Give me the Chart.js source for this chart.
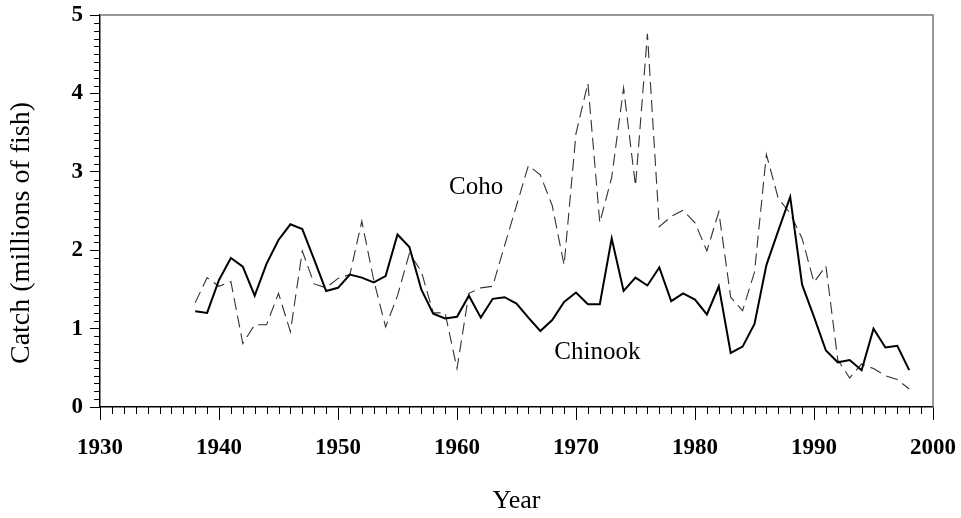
<!DOCTYPE html>
<html>
<head>
<meta charset="utf-8">
<script src="https://cdn.jsdelivr.net/npm/chart.js@4"></script>
<style>
  html, body { margin: 0; padding: 0; background: #fff; }
  #wrap { width: 961px; height: 518px; }
</style>
</head>
<body>
<div id="wrap"><canvas id="chart_1" width="961" height="518"></canvas></div>
<script>
const years = [];
for (let y = 1938; y <= 1998; y++) years.push(y);

// catch in millions of fish
const chinook = [
  1.22, 1.20, 1.62, 1.90, 1.79, 1.42, 1.83, 2.13, 2.33, 2.27,
  1.88, 1.48, 1.52, 1.69, 1.65, 1.59, 1.67, 2.20, 2.04, 1.50,
  1.19, 1.13, 1.15, 1.42, 1.14, 1.38, 1.40, 1.32, 1.14, 0.97,
  1.11, 1.34, 1.46, 1.31, 1.31, 2.15, 1.48, 1.65, 1.55, 1.78,
  1.35, 1.45, 1.37, 1.18, 1.54, 0.69, 0.77, 1.06, 1.81, 2.25,
  2.68, 1.56, 1.15, 0.72, 0.57, 0.60, 0.47, 1.00, 0.76, 0.78,
  0.47
];
const coho = [
  1.33, 1.65, 1.54, 1.60, 0.81, 1.05, 1.05, 1.45, 0.96, 1.99,
  1.57, 1.52, 1.64, 1.69, 2.37, 1.62, 1.02, 1.42, 1.96, 1.73,
  1.20, 1.20, 0.49, 1.45, 1.52, 1.54, 2.06, 2.57, 3.08, 2.96,
  2.57, 1.81, 3.49, 4.13, 2.35, 2.93, 4.07, 2.82, 4.76, 2.30,
  2.43, 2.51, 2.35, 1.99, 2.49, 1.40, 1.23, 1.72, 3.22, 2.66,
  2.47, 2.15, 1.59, 1.80, 0.60, 0.37, 0.55, 0.49, 0.40, 0.35,
  0.23
];

const xTicks = [1930, 1940, 1950, 1960, 1970, 1980, 1990, 2000];
const yTicks = [0, 1, 2, 3, 4, 5];

const seriesNames = ['Chinook', 'Coho'];
const labelSpots = [
  { text: 'Chinook', x: 1971.8, y: 0.70 },
  { text: 'Coho', x: 1961.6, y: 2.80 },
];

const yTitle = 'Catch (millions of fish)';
const xTitle = 'Year';
const serif = "'Liberation Serif', 'DejaVu Serif', serif";

function pairs(vals) {
  return vals.map(function (v, i) {
    return { x: years[i], y: v };
  });
}

// minor ticks, frame, in-plot labels and y title
const extras = {
  id: 'extras',
  afterDraw: function (chart) {
    const ctx = chart.ctx;
    const area = chart.chartArea;
    const xs = chart.scales.x;
    const ys = chart.scales.y;
    ctx.save();

    ctx.strokeStyle = '#777';
    ctx.lineWidth = 1.5;
    ctx.beginPath();
    ctx.moveTo(area.left, area.top);
    ctx.lineTo(area.right, area.top);
    ctx.lineTo(area.right, area.bottom);
    ctx.stroke();

    ctx.strokeStyle = '#000';
    ctx.lineWidth = 1;
    ctx.beginPath();
    for (let yr = xs.min; yr <= xs.max; yr++) {
      if (yr % 10 === 0) continue;
      const px = Math.round(xs.getPixelForValue(yr)) + 0.5;
      ctx.moveTo(px, area.bottom);
      ctx.lineTo(px, area.bottom + 7);
    }
    for (let k = 0; k <= 50; k++) {
      if (k % 10 === 0) continue;
      const py = Math.round(ys.getPixelForValue(k / 10)) + 0.5;
      ctx.moveTo(area.left - 6, py);
      ctx.lineTo(area.left, py);
    }
    ctx.stroke();

    ctx.fillStyle = '#000';
    ctx.font = '25px ' + serif;
    ctx.textAlign = 'center';
    ctx.textBaseline = 'middle';
    labelSpots.forEach(function (s) {
      ctx.fillText(s.text, xs.getPixelForValue(s.x), ys.getPixelForValue(s.y));
    });

    ctx.font = '28px ' + serif;
    ctx.translate(area.left - 78, area.top + 218);
    ctx.rotate(-Math.PI / 2);
    ctx.fillText(yTitle, 0, 0);
    ctx.restore();
  },
};

new Chart('chart_1', {
  type: 'line',
  data: {
    datasets: [
      {
        label: seriesNames[0],
        data: pairs(chinook),
        borderColor: '#000',
        borderWidth: 2,
        pointRadius: 0,
        tension: 0,
      },
      {
        label: seriesNames[1],
        data: pairs(coho),
        borderColor: '#333',
        borderWidth: 1.1,
        borderDash: [12, 6],
        pointRadius: 0,
        tension: 0,
      },
    ],
  },
  options: {
    responsive: false,
    animation: false,
    layout: { padding: { top: 15, right: 28, left: 0, bottom: 0 } },
    plugins: { legend: { display: false }, tooltip: { enabled: false } },
    scales: {
      x: {
        type: 'linear',
        min: 1930,
        max: 2000,
        afterFit: function (scale) {
          scale.height = 111;
          scale.paddingLeft = 0;
          scale.paddingRight = 0;
        },
        afterBuildTicks: function (scale) {
          scale.ticks = xTicks.map(function (v) { return { value: v }; });
        },
        ticks: {
          color: '#000',
          font: { family: serif, size: 23, weight: 'bold' },
          padding: 14,
          maxRotation: 0,
          autoSkip: false,
          callback: function (v) { return String(v); },
        },
        grid: { drawOnChartArea: false, drawTicks: true, tickLength: 13, tickColor: '#000' },
        border: { color: '#000', width: 1.5 },
        title: {
          display: true,
          text: xTitle,
          color: '#000',
          font: { family: serif, size: 26 },
          padding: { top: 0, bottom: 1 },
        },
      },
      y: {
        min: 0,
        max: 5,
        afterFit: function (scale) {
          scale.width = 100;
          scale.paddingTop = 0;
          scale.paddingBottom = 0;
        },
        afterBuildTicks: function (scale) {
          scale.ticks = yTicks.map(function (v) { return { value: v }; });
        },
        ticks: {
          color: '#000',
          font: { family: serif, size: 23, weight: 'bold' },
          padding: 7,
        },
        grid: { drawOnChartArea: false, drawTicks: true, tickLength: 10, tickColor: '#000' },
        border: { color: '#000', width: 1.5 },
      },
    },
  },
  plugins: [extras],
});
</script>
</body>
</html>
